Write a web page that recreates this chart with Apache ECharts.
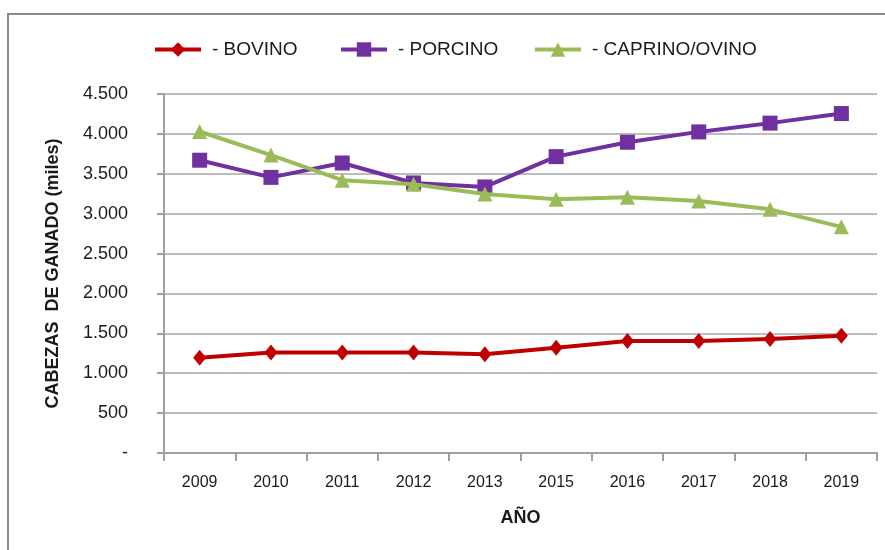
<!DOCTYPE html>
<html>
<head>
<meta charset="utf-8">
<script src="https://cdn.jsdelivr.net/npm/echarts@6/dist/echarts.min.js"></script>
<style>
html,body{margin:0;padding:0;background:#fff;}
#chart{width:885px;height:550px;}
</style>
</head>
<body>
<div id="chart"></div>
<script>
var years = ['2009','2010','2011','2012','2013','2015','2016','2017','2018','2019'];
var bovino = [1195, 1260, 1260, 1260, 1237, 1320, 1404, 1405, 1429, 1470];
var porcino = [3670, 3455, 3635, 3385, 3335, 3715, 3895, 4025, 4135, 4255];
var caprino = [4030, 3735, 3420, 3368, 3246, 3180, 3205, 3158, 3054, 2835];
var seriesNames = ['- BOVINO', '- PORCINO', '- CAPRINO/OVINO'];
var yTitle = 'CABEZAS  DE GANADO (miles)';
var xTitle = 'AÑO';

var FONT = "'Liberation Sans', Arial, sans-serif";
var chart = echarts.init(document.getElementById('chart'), null, {renderer: 'canvas'});

function legendAt(left, name) {
  return {
    show: true, left: left, top: 35, data: [name],
    itemWidth: 46, itemHeight: 18,
    lineStyle: {width: 4},
    textStyle: {fontFamily: FONT, fontSize: 19, color: '#1a1a1a', padding: [0, 0, 0, 6]},
    selectedMode: false
  };
}

var option = {
  backgroundColor: '#ffffff',
  animation: false,
  textStyle: {fontFamily: FONT},
  graphic: [{
    type: 'polyline',
    shape: {points: [[8, 550], [8, 14], [885, 14]]},
    style: {stroke: '#8c8c8c', lineWidth: 2, fill: null},
    silent: true
  }],
  legend: [legendAt(148, seriesNames[0]), legendAt(334, seriesNames[1]), legendAt(528, seriesNames[2])],
  grid: {left: 164, right: 8, top: 94, bottom: 97, containLabel: false, outerBoundsMode: 'none'},
  xAxis: {
    type: 'category',
    data: years,
    boundaryGap: true,
    name: xTitle,
    nameLocation: 'middle',
    nameGap: 56,
    nameTextStyle: {fontFamily: FONT, fontSize: 18, fontWeight: 'bold', color: '#1a1a1a'},
    axisLine: {lineStyle: {color: '#a0a0a0', width: 2}},
    axisTick: {show: true, length: 8, alignWithLabel: false, lineStyle: {color: '#a0a0a0', width: 2}},
    axisLabel: {fontFamily: FONT, fontSize: 16, color: '#1a1a1a', margin: 22, interval: 0},
    splitLine: {show: false}
  },
  yAxis: {
    type: 'value',
    min: 0, max: 4500, interval: 500,
    name: yTitle,
    nameLocation: 'middle',
    nameRotate: 90,
    nameGap: 102,
    nameTextStyle: {fontFamily: FONT, fontSize: 18, fontWeight: 'bold', color: '#1a1a1a'},
    axisLine: {show: true, lineStyle: {color: '#a0a0a0', width: 2}},
    axisTick: {show: true, length: 7, lineStyle: {color: '#a0a0a0', width: 2}},
    axisLabel: {
      fontFamily: FONT, fontSize: 18, color: '#1a1a1a', margin: 36,
      formatter: function (v) {
        if (v === 0) return '-';
        var s = String(v);
        return s.length > 3 ? s.slice(0, s.length - 3) + '.' + s.slice(s.length - 3) : s;
      }
    },
    splitLine: {show: true, lineStyle: {color: '#a6a6a6', width: 1.5}}
  },
  series: [
    {
      name: seriesNames[0], type: 'line', data: bovino,
      symbol: 'diamond', symbolSize: [13, 16],
      lineStyle: {color: '#C00000', width: 4},
      itemStyle: {color: '#C00000'},
      z: 3
    },
    {
      name: seriesNames[1], type: 'line', data: porcino,
      symbol: 'rect', symbolSize: 15,
      lineStyle: {color: '#7030A0', width: 4},
      itemStyle: {color: '#7030A0'},
      z: 4
    },
    {
      name: seriesNames[2], type: 'line', data: caprino,
      symbol: 'triangle', symbolSize: 15,
      lineStyle: {color: '#9BBB59', width: 4},
      itemStyle: {color: '#9BBB59'},
      z: 5
    }
  ]
};
chart.setOption(option);
</script>
</body>
</html>
